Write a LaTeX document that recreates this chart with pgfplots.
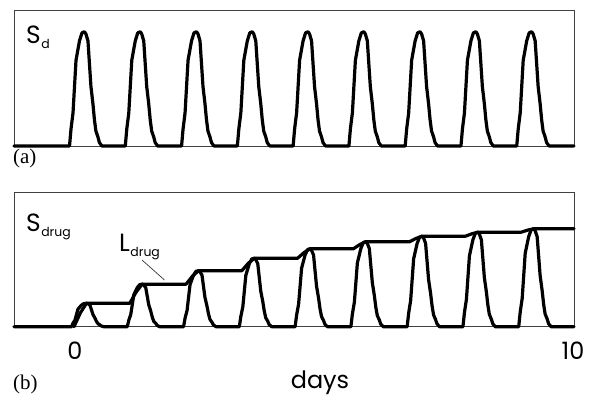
\documentclass[border=0pt]{standalone}
\usepackage{pgfplots}
\pgfplotsset{compat=1.18}
\usepackage{fontspec}
\newfontfamily\gothic{Poppins}
\newfontfamily\tnr{Liberation Serif}
\newcommand\lab[2]{{\gothic\fontsize{25}{25}\selectfont #1}\kern0.5bp\raisebox{-5bp}{\gothic\fontsize{12.5}{12.5}\selectfont #2}}
\begin{document}
\begin{tikzpicture}
\path[use as bounding box] (0,0) rectangle (593bp,-397bp);
\pgfplotsset{
  panel/.style={scale only axis, width=560bp, xmin=-1.225, xmax=10.02, ymin=0,
    axis line style={line width=0.8bp, black!75}, clip=false, ytick=\empty},
  curve/.style={line width=3.2bp, black, line join=round, line cap=round}
}
% ---------- (a) ----------
\begin{axis}[panel, at={(14bp,-146bp)}, anchor=south west, height=136bp, ymax=1.19, xtick=\empty]
\addplot[curve] coordinates {(-1.225,0)
(-0.11,0)(-0.08,0.15)(-0.04,0.29)(-0.01,0.52)(0.02,0.75)(0.09,0.92)(0.14,0.99)(0.19,1)(0.22,0.98)(0.26,0.92)(0.29,0.72)(0.32,0.52)(0.36,0.37)(0.39,0.23)(0.42,0.13)(0.46,0.08)(0.49,0.03)(0.54,0)
(1.01,0)(1.04,0.15)(1.08,0.29)(1.11,0.52)(1.14,0.75)(1.21,0.92)(1.26,0.99)(1.31,1)(1.34,0.98)(1.38,0.92)(1.41,0.72)(1.44,0.52)(1.48,0.37)(1.51,0.23)(1.54,0.13)(1.58,0.08)(1.61,0.03)(1.66,0)
(2.14,0)(2.17,0.15)(2.21,0.29)(2.24,0.52)(2.27,0.75)(2.34,0.92)(2.39,0.99)(2.44,1)(2.47,0.98)(2.51,0.92)(2.54,0.72)(2.57,0.52)(2.61,0.37)(2.64,0.23)(2.67,0.13)(2.71,0.08)(2.74,0.03)(2.79,0)
(3.26,0)(3.29,0.15)(3.33,0.29)(3.36,0.52)(3.39,0.75)(3.46,0.92)(3.51,0.99)(3.56,1)(3.59,0.98)(3.63,0.92)(3.66,0.72)(3.69,0.52)(3.73,0.37)(3.76,0.23)(3.79,0.13)(3.83,0.08)(3.86,0.03)(3.91,0)
(4.38,0)(4.41,0.15)(4.45,0.29)(4.48,0.52)(4.51,0.75)(4.58,0.92)(4.63,0.99)(4.68,1)(4.71,0.98)(4.75,0.92)(4.78,0.72)(4.81,0.52)(4.85,0.37)(4.88,0.23)(4.91,0.13)(4.95,0.08)(4.98,0.03)(5.03,0)
(5.50,0)(5.53,0.15)(5.57,0.29)(5.60,0.52)(5.63,0.75)(5.70,0.92)(5.75,0.99)(5.80,1)(5.83,0.98)(5.87,0.92)(5.90,0.72)(5.93,0.52)(5.97,0.37)(6.00,0.23)(6.03,0.13)(6.07,0.08)(6.10,0.03)(6.15,0)
(6.63,0)(6.66,0.15)(6.70,0.29)(6.73,0.52)(6.76,0.75)(6.83,0.92)(6.88,0.99)(6.93,1)(6.96,0.98)(7.00,0.92)(7.03,0.72)(7.06,0.52)(7.10,0.37)(7.13,0.23)(7.16,0.13)(7.20,0.08)(7.23,0.03)(7.28,0)
(7.75,0)(7.78,0.15)(7.82,0.29)(7.85,0.52)(7.88,0.75)(7.95,0.92)(8.00,0.99)(8.05,1)(8.08,0.98)(8.12,0.92)(8.15,0.72)(8.18,0.52)(8.22,0.37)(8.25,0.23)(8.28,0.13)(8.32,0.08)(8.35,0.03)(8.40,0)
(8.87,0)(8.90,0.15)(8.94,0.29)(8.97,0.52)(9.00,0.75)(9.07,0.92)(9.12,0.99)(9.17,1)(9.20,0.98)(9.24,0.92)(9.27,0.72)(9.30,0.52)(9.34,0.37)(9.37,0.23)(9.40,0.13)(9.44,0.08)(9.47,0.03)(9.52,0)
(10.02,0)};
\end{axis}
% ---------- (b) ----------
\begin{axis}[panel, at={(14bp,-326.7bp)}, anchor=south west, height=134.4bp, ymax=1.176,
  xtick={0,10}, major tick length=0pt,
  /pgf/number format/assume math mode=true,
  xticklabel style={font=\gothic\fontsize{24}{24}\selectfont, inner sep=0pt, anchor=north, yshift=-15bp}]
\addplot[curve] coordinates {(-1.225,0)
(-0.07,0)(-0.04,.031)(0.00,.059)(0.03,.107)(0.06,.154)(0.13,.189)(0.18,.203)(0.23,.205)(0.26,.201)(0.30,.189)(0.33,.148)(0.36,.107)(0.40,.076)(0.43,.047)(0.46,.027)(0.50,.016)(0.53,.006)(0.58,0)
(1.05,0)(1.08,.056)(1.12,.108)(1.15,.193)(1.18,.279)(1.25,.342)(1.30,.368)(1.35,.372)(1.38,.365)(1.42,.342)(1.45,.268)(1.48,.193)(1.52,.138)(1.55,.086)(1.58,.048)(1.62,.030)(1.65,.011)(1.70,0)
(2.18,0)(2.21,.074)(2.25,.142)(2.28,.255)(2.31,.368)(2.38,.451)(2.43,.485)(2.48,.490)(2.51,.480)(2.55,.451)(2.58,.353)(2.61,.255)(2.65,.181)(2.68,.113)(2.71,.064)(2.75,.039)(2.78,.015)(2.83,0)
(3.30,0)(3.33,.090)(3.37,.174)(3.40,.311)(3.43,.449)(3.50,.551)(3.55,.593)(3.60,.599)(3.63,.587)(3.67,.551)(3.70,.431)(3.73,.311)(3.77,.222)(3.80,.138)(3.83,.078)(3.87,.048)(3.90,.018)(3.95,0)
(4.42,0)(4.45,.102)(4.49,.198)(4.52,.355)(4.55,.512)(4.62,.627)(4.67,.675)(4.72,.682)(4.75,.668)(4.79,.627)(4.82,.491)(4.85,.355)(4.89,.252)(4.92,.157)(4.95,.089)(4.99,.055)(5.02,.020)(5.07,0)
(5.54,0)(5.57,.112)(5.61,.216)(5.64,.387)(5.67,.558)(5.74,.684)(5.79,.737)(5.84,.744)(5.87,.729)(5.91,.684)(5.94,.536)(5.97,.387)(6.01,.275)(6.04,.171)(6.07,.097)(6.11,.060)(6.14,.022)(6.19,0)
(6.67,0)(6.70,.119)(6.74,.230)(6.77,.412)(6.80,.594)(6.87,.729)(6.92,.784)(6.97,.792)(7.00,.776)(7.04,.729)(7.07,.570)(7.10,.412)(7.14,.293)(7.17,.182)(7.20,.103)(7.24,.063)(7.27,.024)(7.32,0)
(7.79,0)(7.82,.124)(7.86,.240)(7.89,.430)(7.92,.620)(7.99,.761)(8.04,.819)(8.09,.827)(8.12,.810)(8.16,.761)(8.19,.595)(8.22,.430)(8.26,.306)(8.29,.190)(8.32,.108)(8.36,.066)(8.39,.025)(8.44,0)
(8.91,0)(8.94,.129)(8.98,.249)(9.01,.446)(9.04,.643)(9.11,.788)(9.16,.848)(9.21,.857)(9.24,.840)(9.28,.788)(9.31,.617)(9.34,.446)(9.38,.317)(9.41,.197)(9.44,.111)(9.48,.069)(9.51,.026)(9.56,0)
(10.02,0)};
% L_drug
\addplot[curve] coordinates {
(-0.02,0)(0.11,.123)(0.23,.205)
(1.10,.205)(1.23,.305)(1.35,.372)
(2.23,.372)(2.36,.443)(2.48,.490)
(3.35,.490)(3.48,.555)(3.60,.599)
(4.47,.599)(4.60,.649)(4.72,.682)
(5.59,.682)(5.72,.719)(5.84,.744)
(6.72,.744)(6.85,.773)(6.97,.792)
(7.84,.792)(7.97,.813)(8.09,.827)
(8.96,.827)(9.09,.845)(9.21,.857)
(10.02,.857)};
\end{axis}
% labels
\node[anchor=base west, inner sep=0pt] at (26bp,-43bp) {\lab{S}{d}};
\node[anchor=base west, inner sep=0pt] at (26bp,-231bp) {\lab{S}{drug}};
\node[anchor=base west, inner sep=0pt] at (119bp,-251bp) {\lab{L}{drug}};
\draw[line width=0.7bp, black!80] (142bp,-260bp) -- (164.5bp,-280bp);
\node[anchor=base west, inner sep=0pt, font=\tnr\fontsize{21}{21}\selectfont] at (13bp,-163bp) {(a)};
\node[anchor=base west, inner sep=0pt, font=\tnr\fontsize{21}{21}\selectfont] at (13bp,-389bp) {(b)};
\node[anchor=base, inner sep=0pt, font=\gothic\fontsize{24}{24}\selectfont] at (320bp,-388.5bp) {days};
\end{tikzpicture}
\end{document}
